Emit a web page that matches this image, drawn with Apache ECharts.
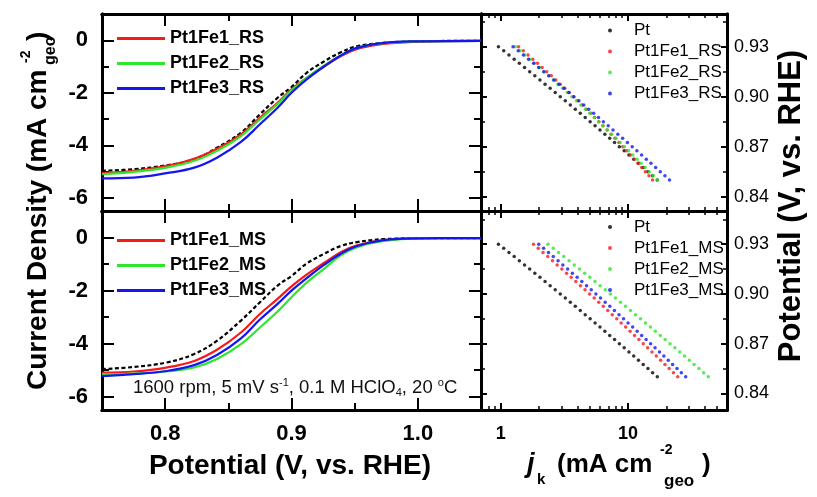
<!DOCTYPE html>
<html>
<head>
<meta charset="utf-8">
<script src="https://cdn.jsdelivr.net/npm/echarts@6/dist/echarts.min.js"></script>
<style>
html,body{margin:0;padding:0;background:#fff;}
#chart{width:817px;height:497px;}
</style>
</head>
<body>
<div id="chart"></div>
<script>
// ---------------- data ----------------
const lsvPotential = [0.75, 0.775, 0.801, 0.823, 0.841, 0.86, 0.875, 0.889, 0.9, 0.912, 0.926, 0.939, 0.952, 0.973, 1.0, 1.05];

const ptLsvRS  = [-4.97, -4.91, -4.76, -4.53, -4.09, -3.52, -2.82, -2.19, -1.78, -1.24, -0.80, -0.46, -0.23, -0.10, -0.04, -0.02];
const fe1LsvRS = [-5.06, -4.97, -4.78, -4.51, -4.13, -3.58, -2.95, -2.38, -1.87, -1.43, -0.99, -0.61, -0.33, -0.14, -0.05, -0.02];
const fe2LsvRS = [-5.10, -5.01, -4.85, -4.59, -4.21, -3.65, -3.01, -2.42, -1.91, -1.43, -0.96, -0.58, -0.29, -0.11, -0.04, -0.02];
const fe3LsvRS = [-5.26, -5.23, -5.06, -4.85, -4.47, -3.87, -3.20, -2.57, -2.00, -1.49, -0.99, -0.58, -0.29, -0.10, -0.04, -0.02];

const ptLsvMS  = [-4.96, -4.88, -4.71, -4.39, -3.89, -3.13, -2.44, -1.81, -1.45, -0.98, -0.61, -0.32, -0.17, -0.06, -0.03, -0.02];
const fe1LsvMS = [-5.09, -5.05, -4.90, -4.65, -4.23, -3.58, -2.88, -2.31, -1.84, -1.40, -0.95, -0.55, -0.29, -0.10, -0.03, -0.02];
const fe2LsvMS = [-5.15, -5.13, -5.05, -4.90, -4.58, -4.02, -3.39, -2.79, -2.25, -1.70, -1.17, -0.67, -0.36, -0.13, -0.03, -0.02];
const fe3LsvMS = [-5.22, -5.15, -5.03, -4.81, -4.43, -3.80, -3.09, -2.50, -2.00, -1.53, -1.02, -0.61, -0.32, -0.10, -0.03, -0.02];

const tafelPotential = [0.93, 0.9275, 0.925, 0.9225, 0.92, 0.9175, 0.915, 0.9125, 0.91, 0.9075, 0.905, 0.9025, 0.9, 0.8975, 0.895, 0.8925, 0.89, 0.8875, 0.885, 0.8825, 0.88, 0.8775, 0.875, 0.8725, 0.87, 0.8675, 0.865, 0.8625, 0.86, 0.8575, 0.855, 0.8525, 0.85];

const ptJk    = [0.960, 1.056, 1.161, 1.276, 1.401, 1.539, 1.689, 1.854, 2.034, 2.231, 2.446, 2.681, 2.937, 3.217, 3.523, 3.855, 4.218, 4.613, 5.044, 5.513, 6.025, 6.581, 7.186, 7.846, 8.557, 9.336, 10.18, 11.10, 12.09, 13.18, 14.35, 15.62, 17.00];
const fe1JkRS = [1.380, 1.505, 1.641, 1.787, 1.945, 2.115, 2.298, 2.496, 2.709, 2.938, 3.184, 3.448, 3.731, 4.036, 4.361, 4.709, 5.082, 5.480, 5.904, 6.358, 6.842, 7.355, 7.907, 8.488, 9.109, 9.766, 10.46, 11.20, 11.99, 12.82, 13.69, 14.62, 15.60];
const fe2JkRS = [1.300, 1.419, 1.550, 1.691, 1.844, 2.010, 2.189, 2.384, 2.594, 2.821, 3.068, 3.333, 3.621, 3.930, 4.264, 4.624, 5.012, 5.431, 5.882, 6.364, 6.885, 7.443, 8.044, 8.687, 9.380, 10.12, 10.92, 11.77, 12.68, 13.65, 14.69, 15.81, 17.00];
const fe3JkRS = [1.250, 1.372, 1.507, 1.654, 1.814, 1.989, 2.181, 2.390, 2.618, 2.868, 3.140, 3.437, 3.760, 4.113, 4.496, 4.915, 5.372, 5.868, 6.406, 6.993, 7.628, 8.322, 9.080, 9.896, 10.79, 11.75, 12.80, 13.93, 15.16, 16.50, 17.94, 19.51, 21.20];
const fe1JkMS = [1.810, 1.973, 2.150, 2.343, 2.552, 2.778, 3.023, 3.291, 3.579, 3.893, 4.231, 4.597, 4.996, 5.426, 5.891, 6.395, 6.939, 7.526, 8.164, 8.849, 9.592, 10.39, 11.26, 12.19, 13.19, 14.27, 15.45, 16.70, 18.06, 19.52, 21.09, 22.79, 24.60];
const fe2JkMS = [2.350, 2.587, 2.847, 3.131, 3.443, 3.785, 4.158, 4.567, 5.016, 5.506, 6.042, 6.629, 7.268, 7.967, 8.730, 9.565, 10.47, 11.47, 12.55, 13.73, 15.01, 16.42, 17.94, 19.60, 21.41, 23.37, 25.51, 27.83, 30.35, 33.09, 36.06, 39.29, 42.80];
const fe3JkMS = [1.990, 2.173, 2.372, 2.588, 2.823, 3.078, 3.357, 3.659, 3.986, 4.341, 4.726, 5.144, 5.598, 6.089, 6.622, 7.200, 7.822, 8.500, 9.232, 10.02, 10.88, 11.81, 12.81, 13.89, 15.05, 16.32, 17.68, 19.15, 20.73, 22.44, 24.28, 26.26, 28.40];

// tick labels / tick positions
const lsvXMajor = [0.8, 0.9, 1.0];
const lsvXMinor = [0.85, 0.95];
const lsvYMajor = [-6, -4, -2, 0];
const lsvYMinor = [-5, -3, -1];
const tafelXMajor = [1, 10];
const tafelXMinor = [0.8, 0.9, 2, 3, 4, 5, 6, 7, 8, 9, 20, 30, 40, 50];
const tafelYMajor = [0.84, 0.87, 0.90, 0.93];
const tafelYMinor = [0.855, 0.885, 0.915, 0.945];

// ---------------- chart ----------------
const FONT = 'Arial, "Liberation Sans", sans-serif';
const RED = '#f51a1a', GREEN = '#2ee62e', BLUE = '#1515f0', BLACK = '#000000';

const grids = [
  {left: 102, top: 14, width: 379, height: 197},
  {left: 102, top: 211, width: 379, height: 199},
  {left: 481, top: 14, width: 246, height: 197},
  {left: 481, top: 211, width: 246, height: 199}
];

const xAxes = [], yAxes = [];
function mkAxis(grid, pos, type, min, max, ticks, len, tickW, labels, labelCfg) {
  return {
    type: type, gridIndex: grid, position: pos, min: min, max: max,
    logBase: 10,
    axisLine: {show: true, onZero: false, lineStyle: {color: '#000', width: 3}},
    axisTick: {show: true, inside: true, length: len, customValues: ticks, lineStyle: {color: '#000', width: tickW}},
    axisLabel: labels ? Object.assign({show: true, customValues: labels, color: '#000', fontFamily: FONT}, labelCfg) : {show: false},
    splitLine: {show: false},
    minorTick: {show: false},
    axisPointer: {show: false}
  };
}
function addX(a) { xAxes.push(a); return xAxes.length - 1; }
function addY(a) { yAxes.push(a); return yAxes.length - 1; }

const lsvXLabel = {fontSize: 22, fontWeight: 'bold', margin: 13, formatter: v => Number(v).toFixed(1)};
const lsvYLabel = {fontSize: 22, fontWeight: 'bold', margin: 14, formatter: v => String(Math.round(v))};
const tafYLabel = {fontSize: 18, margin: 7, formatter: v => Number(v).toFixed(2)};
const tafXLabel = {fontSize: 18, fontWeight: 'bold', margin: 15, formatter: v => String(Math.round(v))};

const panelAxes = [];
// left LSV panels
for (let g = 0; g < 2; g++) {
  const yMin = -6.5, yMax = 1;
  const xb = addX(mkAxis(g, 'bottom', 'value', 0.75, 1.05, lsvXMajor, 12, 2, g === 1 ? lsvXMajor : null, lsvXLabel));
  addX(mkAxis(g, 'bottom', 'value', 0.75, 1.05, lsvXMinor, 7, 2, null));
  addX(mkAxis(g, 'top', 'value', 0.75, 1.05, lsvXMajor, 12, 2, null));
  addX(mkAxis(g, 'top', 'value', 0.75, 1.05, lsvXMinor, 7, 2, null));
  const yl = addY(mkAxis(g, 'left', 'value', yMin, yMax, lsvYMajor, 12, 2, lsvYMajor, lsvYLabel));
  addY(mkAxis(g, 'left', 'value', yMin, yMax, lsvYMinor, 7, 2, null));
  addY(mkAxis(g, 'right', 'value', yMin, yMax, lsvYMajor, 12, 2, null));
  addY(mkAxis(g, 'right', 'value', yMin, yMax, lsvYMinor, 7, 2, null));
  panelAxes.push([xb, yl]);
}
// right Tafel panels
for (let g = 2; g < 4; g++) {
  const yMin = g === 2 ? 0.8314 : 0.83, yMax = g === 2 ? 0.9496 : 0.95;
  const xb = addX(mkAxis(g, 'bottom', 'log', 0.7, 60, tafelXMajor, 7, 2, g === 3 ? tafelXMajor : null, tafXLabel));
  addX(mkAxis(g, 'bottom', 'log', 0.7, 60, tafelXMinor, 4, 1.5, null));
  addX(mkAxis(g, 'top', 'log', 0.7, 60, tafelXMajor, 7, 2, null));
  addX(mkAxis(g, 'top', 'log', 0.7, 60, tafelXMinor, 4, 1.5, null));
  const yl = addY(mkAxis(g, 'left', 'value', yMin, yMax, tafelYMajor, 6, 2, null));
  addY(mkAxis(g, 'left', 'value', yMin, yMax, tafelYMinor, 4, 1.5, null));
  addY(mkAxis(g, 'right', 'value', yMin, yMax, tafelYMajor, 6, 2, tafelYMajor, tafYLabel));
  addY(mkAxis(g, 'right', 'value', yMin, yMax, tafelYMinor, 4, 1.5, null));
  panelAxes.push([xb, yl]);
}

function lsvSeries(name, g, vals, color, dashed) {
  return {
    type: 'line', name: name, xAxisIndex: panelAxes[g][0], yAxisIndex: panelAxes[g][1],
    data: lsvPotential.map((v, i) => [v, vals[i]]),
    showSymbol: false, smooth: 0.4, z: 3,
    lineStyle: {color: color, width: 2.2, type: dashed ? [4, 2.5] : 'solid'},
    itemStyle: {color: color}
  };
}
function tafelSeries(name, g, vals, color) {
  return {
    type: 'scatter', name: name, xAxisIndex: panelAxes[g][0], yAxisIndex: panelAxes[g][1],
    data: tafelPotential.map((p, i) => [vals[i], p]),
    symbol: 'circle', symbolSize: 3.5, z: 3,
    itemStyle: {color: color}
  };
}

const series = [
  lsvSeries('Pt (LSV RS)', 0, ptLsvRS, BLACK, true),
  lsvSeries('Pt1Fe1_RS', 0, fe1LsvRS, RED),
  lsvSeries('Pt1Fe2_RS', 0, fe2LsvRS, GREEN),
  lsvSeries('Pt1Fe3_RS', 0, fe3LsvRS, BLUE),
  lsvSeries('Pt (LSV MS)', 1, ptLsvMS, BLACK, true),
  lsvSeries('Pt1Fe1_MS', 1, fe1LsvMS, RED),
  lsvSeries('Pt1Fe2_MS', 1, fe2LsvMS, GREEN),
  lsvSeries('Pt1Fe3_MS', 1, fe3LsvMS, BLUE),
  tafelSeries('Pt (Tafel RS)', 2, ptJk, BLACK),
  tafelSeries('Pt1Fe1_RS (Tafel)', 2, fe1JkRS, RED),
  tafelSeries('Pt1Fe2_RS (Tafel)', 2, fe2JkRS, GREEN),
  tafelSeries('Pt1Fe3_RS (Tafel)', 2, fe3JkRS, BLUE),
  tafelSeries('Pt (Tafel MS)', 3, ptJk, BLACK),
  tafelSeries('Pt1Fe1_MS (Tafel)', 3, fe1JkMS, RED),
  tafelSeries('Pt1Fe2_MS (Tafel)', 3, fe2JkMS, GREEN),
  tafelSeries('Pt1Fe3_MS (Tafel)', 3, fe3JkMS, BLUE)
];

function lineLegend(names, top) {
  return {
    data: names, orient: 'vertical', left: 117, top: top, padding: 0,
    itemWidth: 48, itemHeight: 3, itemGap: 5, icon: 'rect', selectedMode: false,
    textStyle: {fontSize: 18, fontWeight: 'bold', lineHeight: 20, color: '#000', fontFamily: FONT}
  };
}
function dotLegend(names, top) {
  return {
    data: names, orient: 'vertical', left: 608, top: top, padding: 0,
    itemWidth: 38, itemHeight: 4, itemGap: 4, icon: 'circle', selectedMode: false,
    formatter: n => n.split(' (')[0],
    textStyle: {fontSize: 17, lineHeight: 16.5, color: '#000', fontFamily: FONT}
  };
}

const B28 = 'bold 28px ' + FONT;
const graphic = [
  // x title left
  {type: 'text', x: 290, y: 466, style: {text: 'Potential (V, vs. RHE)', font: B28, fill: '#000', align: 'center', verticalAlign: 'middle'}},
  // y title right
  {type: 'text', x: 791, y: 206, rotation: Math.PI / 2, style: {text: 'Potential (V, vs. RHE)', font: 'bold 31px ' + FONT, fill: '#000', align: 'center', verticalAlign: 'middle'}},
  // y title left (rotated group)
  {type: 'group', x: 38, y: 390, rotation: Math.PI / 2, children: [
    {type: 'text', x: 0, y: 0, style: {text: 'Current Density (mA cm', font: B28, fill: '#000', align: 'left', verticalAlign: 'middle'}},
    {type: 'text', x: 327, y: -12, style: {text: '-2', font: 'bold 14px ' + FONT, fill: '#000', align: 'left', verticalAlign: 'middle'}},
    {type: 'text', x: 325, y: 13, style: {text: 'geo', font: 'bold 16px ' + FONT, fill: '#000', align: 'left', verticalAlign: 'middle'}},
    {type: 'text', x: 349, y: 0, style: {text: ')', font: B28, fill: '#000', align: 'left', verticalAlign: 'middle'}}
  ]},
  // j_k title
  {type: 'text', x: 527, y: 465, style: {text: 'j', font: 'italic bold 27px ' + FONT, fill: '#000', align: 'left', verticalAlign: 'middle'}},
  {type: 'text', x: 537, y: 480, style: {text: 'k', font: 'bold 15px ' + FONT, fill: '#000', align: 'left', verticalAlign: 'middle'}},
  {type: 'text', x: 557, y: 465, style: {text: '(mA cm', font: 'bold 26px ' + FONT, fill: '#000', align: 'left', verticalAlign: 'middle'}},
  {type: 'text', x: 660, y: 450, style: {text: '-2', font: 'bold 14px ' + FONT, fill: '#000', align: 'left', verticalAlign: 'middle'}},
  {type: 'text', x: 664, y: 481, style: {text: 'geo', font: 'bold 17px ' + FONT, fill: '#000', align: 'left', verticalAlign: 'middle'}},
  {type: 'text', x: 702, y: 465, style: {text: ')', font: 'bold 26px ' + FONT, fill: '#000', align: 'left', verticalAlign: 'middle'}},
  // conditions annotation
  {type: 'text', x: 133, y: 388, z: 10, style: {
    text: '{n|1600 rpm, 5 mV s}{sup|-1}{n|, 0.1 M HClO}{sub|4}{n|, 20 }{sup|o}{n|C}',
    align: 'left', verticalAlign: 'middle', fill: '#000',
    rich: {
      n: {fontSize: 18.5, lineHeight: 21, fontFamily: FONT, fill: '#111'},
      sup: {fontSize: 11, lineHeight: 11, verticalAlign: 'top', fontFamily: FONT, fill: '#111'},
      sub: {fontSize: 11, lineHeight: 11, verticalAlign: 'bottom', fontFamily: FONT, fill: '#111'}
    }
  }}
];

const option = {
  animation: false,
  backgroundColor: '#fff',
  textStyle: {fontFamily: FONT},
  grid: grids,
  xAxis: xAxes,
  yAxis: yAxes,
  legend: [
    lineLegend(['Pt1Fe1_RS', 'Pt1Fe2_RS', 'Pt1Fe3_RS'], 28.5),
    lineLegend(['Pt1Fe1_MS', 'Pt1Fe2_MS', 'Pt1Fe3_MS'], 230.5),
    dotLegend(['Pt (Tafel RS)', 'Pt1Fe1_RS (Tafel)', 'Pt1Fe2_RS (Tafel)', 'Pt1Fe3_RS (Tafel)'], 22),
    dotLegend(['Pt (Tafel MS)', 'Pt1Fe1_MS (Tafel)', 'Pt1Fe2_MS (Tafel)', 'Pt1Fe3_MS (Tafel)'], 218.5)
  ],
  series: series,
  graphic: graphic
};

const chart = echarts.init(document.getElementById('chart'), null, {renderer: 'canvas'});
chart.setOption(option);
</script>
</body>
</html>
